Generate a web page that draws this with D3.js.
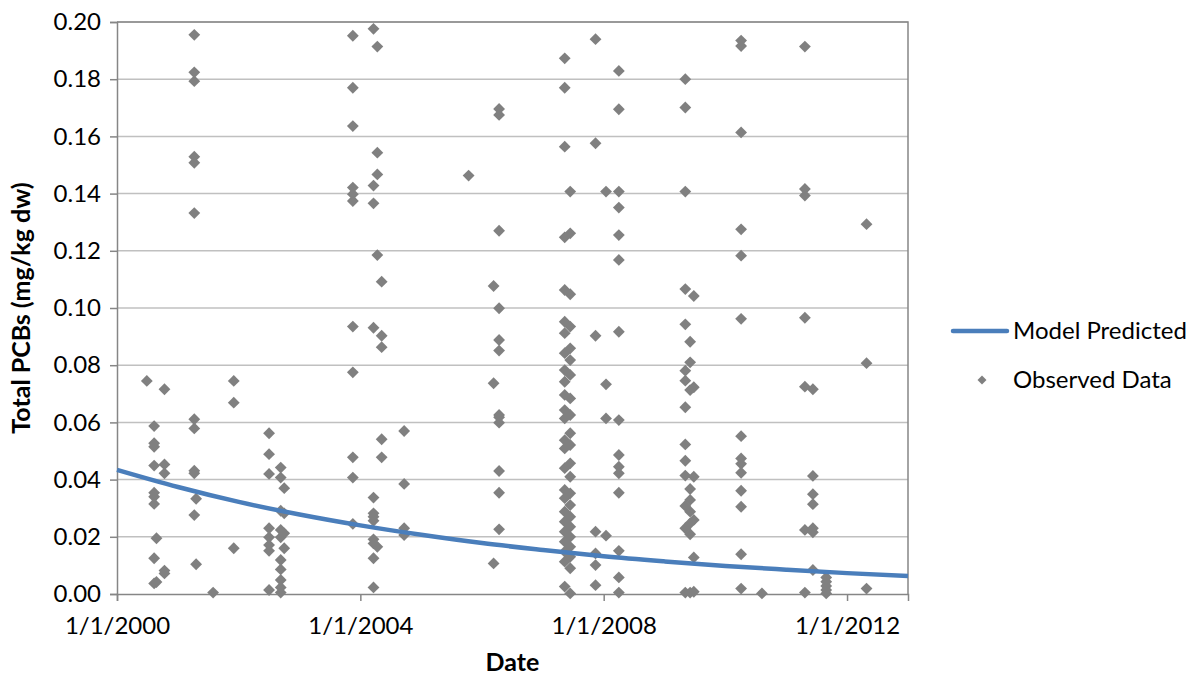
<!DOCTYPE html>
<html>
<head>
<meta charset="utf-8">
<script src="https://cdn.jsdelivr.net/npm/d3@7"></script>
<style>
  html, body { margin: 0; padding: 0; background: #fff; }
  svg text { font-family: Lato, "Open Sans", sans-serif; fill: #000; }
</style>
</head>
<body>
<svg id="chart" width="1198" height="679"></svg>
<script>
// ---- Data ----
const sampleDates = [
  "2000-06-28","2000-08-11","2000-08-25","2000-10-12","2001-04-09","2001-04-20",
  "2001-07-31","2001-12-02","2002-07-02","2002-09-10","2002-10-01","2003-11-17",
  "2004-03-20","2004-04-12","2004-05-08","2004-09-20","2005-10-12","2006-03-11",
  "2006-04-13","2007-05-12","2007-06-14","2007-11-13","2008-01-15","2008-04-01",
  "2009-05-05","2009-06-03","2009-06-25","2010-04-05","2010-08-08","2011-04-23",
  "2011-06-10","2011-08-29","2012-04-27"
];
const sampleValues = [
  [0.0745],
  [0.0587, 0.0527, 0.0515, 0.0449, 0.0354, 0.0340, 0.0315, 0.0125, 0.0037],
  [0.0195, 0.0042],
  [0.0716, 0.0453, 0.0422, 0.0082, 0.0072],
  [0.1955, 0.1824, 0.1793, 0.1529, 0.1508, 0.1332, 0.0611, 0.0579, 0.0431, 0.0422, 0.0276],
  [0.0333, 0.0104],
  [0.0005],
  [0.0745, 0.0669, 0.0160],
  [0.0562, 0.0489, 0.0420, 0.0230, 0.0198, 0.0171, 0.0151, 0.0014],
  [0.0442, 0.0407, 0.0291, 0.0224, 0.0198, 0.0119, 0.0086, 0.0049, 0.0023, 0.0005],
  [0.0370, 0.0282, 0.0212, 0.0160],
  [0.1952, 0.1770, 0.1636, 0.1421, 0.1398, 0.1374, 0.0935, 0.0775, 0.0478, 0.0407, 0.0245],
  [0.1976, 0.1428, 0.1366, 0.0931, 0.0337, 0.0282, 0.0270, 0.0256, 0.0191, 0.0177, 0.0125, 0.0023],
  [0.1914, 0.1543, 0.1467, 0.1185, 0.0165],
  [0.1092, 0.0903, 0.0863, 0.0541, 0.0478],
  [0.0570, 0.0385, 0.0230, 0.0206],
  [0.1463],
  [0.1077, 0.0737, 0.0107],
  [0.1696, 0.1675, 0.1270, 0.0999, 0.0888, 0.0851, 0.0626, 0.0618, 0.0599, 0.0430, 0.0354, 0.0226],
  [0.1873, 0.1770, 0.1564, 0.1247, 0.1063, 0.0952, 0.0912, 0.0842, 0.0783, 0.0742, 0.0696, 0.0643,
   0.0614, 0.0538, 0.0509, 0.0440, 0.0364, 0.0335, 0.0288, 0.0253, 0.0218, 0.0183, 0.0148, 0.0113, 0.0026],
  [0.1407, 0.1261, 0.1048, 0.0935, 0.0859, 0.0818, 0.0766, 0.0684, 0.0626, 0.0562, 0.0521, 0.0457,
   0.0410, 0.0352, 0.0311, 0.0270, 0.0235, 0.0200, 0.0165, 0.0130, 0.0090, 0.0002],
  [0.1940, 0.1576, 0.0903, 0.0218, 0.0142, 0.0101, 0.0031],
  [0.1407, 0.0733, 0.0614, 0.0204],
  [0.1829, 0.1695, 0.1407, 0.1351, 0.1255, 0.1168, 0.0917, 0.0608, 0.0486, 0.0445, 0.0422, 0.0354, 0.0151, 0.0058, 0.0005],
  [0.1800, 0.1701, 0.1407, 0.1066, 0.0943, 0.0781, 0.0746, 0.0653, 0.0523, 0.0466, 0.0414, 0.0308, 0.0230, 0.0005],
  [0.0882, 0.0810, 0.0713, 0.0367, 0.0329, 0.0288, 0.0247, 0.0209, 0.0005],
  [0.1042, 0.0723, 0.0410, 0.0259, 0.0128, 0.0008],
  [0.1935, 0.1916, 0.1614, 0.1275, 0.1183, 0.0962, 0.0552, 0.0474, 0.0455, 0.0424, 0.0361, 0.0305, 0.0139, 0.0019],
  [0.0002],
  [0.1914, 0.1416, 0.1393, 0.0966, 0.0725, 0.0224, 0.0005],
  [0.0716, 0.0413, 0.0349, 0.0314, 0.0230, 0.0216, 0.0084],
  [0.0058, 0.0043, 0.0028, 0.0014, 0.0002],
  [0.1293, 0.0807, 0.0019]
];
const modelDates = [
  "2000-01-01","2001-01-01","2002-01-01","2003-01-01","2004-01-01","2005-01-01","2006-01-01",
  "2007-01-01","2008-01-01","2009-01-01","2010-01-01","2011-01-01","2012-01-01","2013-01-01"
];
const modelValues = [0.0434, 0.0374, 0.0322, 0.0278, 0.0240, 0.0207, 0.0178,
                     0.0154, 0.0132, 0.0114, 0.0098, 0.0085, 0.0073, 0.0063];
const xTickDates = ["2000-01-01","2004-01-01","2008-01-01","2012-01-01"];
const yTicks = [0, 0.02, 0.04, 0.06, 0.08, 0.10, 0.12, 0.14, 0.16, 0.18, 0.20];
const xDomain = ["2000-01-01", "2013-01-01"];
const yDomain = [0, 0.20];
const seriesNames = ["Model Predicted", "Observed Data"];
const axisTitles = { x: "Date", y: "Total PCBs (mg/kg dw)" };

// ---- Layout ----
const parse = d3.utcParse("%Y-%m-%d");
const plot = { left: 117, top: 22, right: 908, bottom: 594 };
const svg = d3.select("#chart");

const x = d3.scaleUtc().domain(xDomain.map(parse)).range([plot.left, plot.right]);
const y = d3.scaleLinear().domain(yDomain).range([plot.bottom, plot.top]);

const axisColor = "#868686";
const gridColor = "#c0c0c0";
const markerColor = "#808080";
const lineColor = "#4a7ebb";
const tickFont = 24;
const titleFont = 25;

// gridlines
svg.append("g").selectAll("line").data(yTicks.filter(d => d > 0)).join("line")
  .attr("x1", plot.left).attr("x2", plot.right)
  .attr("y1", d => y(d)).attr("y2", d => y(d))
  .attr("stroke", gridColor).attr("stroke-width", 1.5);

// plot border (top & right)
svg.append("path")
  .attr("d", `M${plot.left},${plot.top}H${plot.right}V${plot.bottom}`)
  .attr("fill", "none").attr("stroke", axisColor).attr("stroke-width", 1.5);

// y axis
const yAxis = d3.axisLeft(y).tickValues(yTicks).tickFormat(d3.format(".2f")).tickSize(7).tickPadding(9);
const gy = svg.append("g").attr("transform", `translate(${plot.left},0)`).call(yAxis);
gy.select(".domain").attr("stroke", axisColor).attr("stroke-width", 1.5);
gy.selectAll(".tick line").attr("stroke", axisColor).attr("stroke-width", 1.5);
gy.selectAll(".tick text").attr("font-size", tickFont).attr("font-family", "Lato, sans-serif").attr("fill", "#000");

// x axis
const xAxis = d3.axisBottom(x).tickValues(xTickDates.map(parse))
  .tickFormat(d => `${d.getUTCMonth() + 1}/${d.getUTCDate()}/${d.getUTCFullYear()}`)
  .tickSize(7).tickPadding(16);
const gx = svg.append("g").attr("transform", `translate(0,${plot.bottom})`).call(xAxis);
gx.select(".domain").attr("stroke", axisColor).attr("stroke-width", 1.5);
gx.selectAll(".tick line").attr("stroke", axisColor).attr("stroke-width", 1.5);
gx.selectAll(".tick text").attr("font-size", tickFont).attr("font-family", "Lato, sans-serif").attr("fill", "#000");

// observed points
const obs = [];
sampleDates.forEach((d, i) => sampleValues[i].forEach(v => obs.push({ date: parse(d), value: v })));
const diamond = d3.symbol().type(d3.symbolSquare).size(70);
svg.append("g").selectAll("path").data(obs).join("path")
  .attr("d", diamond)
  .attr("transform", d => `translate(${x(d.date)},${y(d.value)}) rotate(45)`)
  .attr("fill", markerColor);

// model line
const model = modelDates.map((d, i) => ({ date: parse(d), value: modelValues[i] }));
svg.append("path").datum(model)
  .attr("d", d3.line().x(d => x(d.date)).y(d => y(d.value)).curve(d3.curveMonotoneX))
  .attr("fill", "none").attr("stroke", lineColor).attr("stroke-width", 4.5);

// axis titles
svg.append("text").attr("x", (plot.left + plot.right) / 2).attr("y", 671)
  .attr("text-anchor", "middle").attr("font-weight", "bold").attr("font-size", titleFont)
  .text(axisTitles.x);
svg.append("text").attr("transform", `translate(30,${(plot.top + plot.bottom) / 2}) rotate(-90)`)
  .attr("text-anchor", "middle").attr("font-weight", "bold").attr("font-size", titleFont)
  .text(axisTitles.y);

// legend
const lg = svg.append("g");
lg.append("line").attr("x1", 953).attr("x2", 1007).attr("y1", 331).attr("y2", 331)
  .attr("stroke", lineColor).attr("stroke-width", 4.5).attr("stroke-linecap", "round");
lg.append("text").attr("x", 1013).attr("y", 331).attr("dy", "0.35em").attr("font-size", tickFont)
  .text(seriesNames[0]);
lg.append("path").attr("d", d3.symbol().type(d3.symbolSquare).size(40))
  .attr("transform", "translate(982,380) rotate(45)").attr("fill", markerColor);
lg.append("text").attr("x", 1013).attr("y", 380).attr("dy", "0.35em").attr("font-size", tickFont)
  .text(seriesNames[1]);
</script>
</body>
</html>
